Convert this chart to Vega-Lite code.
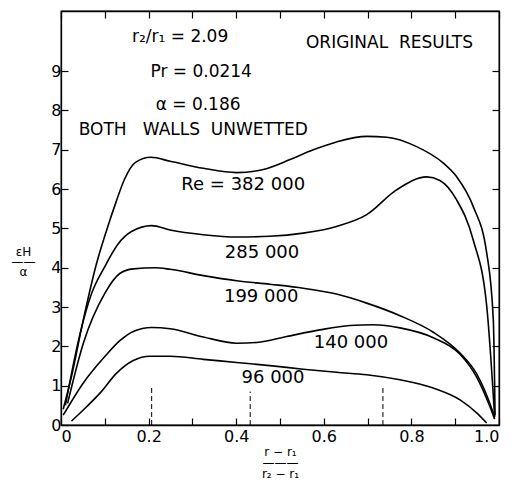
{
  "$schema": "https://vega.github.io/schema/vega-lite/v6.json",
  "width": 438,
  "height": 414,
  "autosize": "none",
  "padding": {"left": 61, "top": 11, "right": 15, "bottom": 58},
  "background": "white",
  "config": {
    "font": "DejaVu Sans",
    "view": {"stroke": "black", "strokeWidth": 1.3},
    "axis": {"domainColor": "black", "domainWidth": 1.3, "tickColor": "black", "tickWidth": 1.2, "labelColor": "black", "titleColor": "black", "grid": false, "labelFont": "DejaVu Sans", "titleFont": "DejaVu Sans"}
  },
  "datasets": {
    "curves": [
      {"Re": "382000", "x": 0.005, "y": 0.4},
      {"Re": "382000", "x": 0.024, "y": 1.24},
      {"Re": "382000", "x": 0.051, "y": 2.68},
      {"Re": "382000", "x": 0.081, "y": 4.1},
      {"Re": "382000", "x": 0.104, "y": 4.95},
      {"Re": "382000", "x": 0.125, "y": 5.65},
      {"Re": "382000", "x": 0.145, "y": 6.25},
      {"Re": "382000", "x": 0.17, "y": 6.68},
      {"Re": "382000", "x": 0.205, "y": 6.81},
      {"Re": "382000", "x": 0.249, "y": 6.71},
      {"Re": "382000", "x": 0.325, "y": 6.53},
      {"Re": "382000", "x": 0.401, "y": 6.42},
      {"Re": "382000", "x": 0.462, "y": 6.5},
      {"Re": "382000", "x": 0.523, "y": 6.75},
      {"Re": "382000", "x": 0.576, "y": 7.0},
      {"Re": "382000", "x": 0.629, "y": 7.2},
      {"Re": "382000", "x": 0.698, "y": 7.34},
      {"Re": "382000", "x": 0.744, "y": 7.32},
      {"Re": "382000", "x": 0.812, "y": 7.08},
      {"Re": "382000", "x": 0.873, "y": 6.66},
      {"Re": "382000", "x": 0.903, "y": 6.32},
      {"Re": "382000", "x": 0.941, "y": 5.56},
      {"Re": "382000", "x": 0.972, "y": 4.37},
      {"Re": "382000", "x": 0.987, "y": 2.68},
      {"Re": "382000", "x": 0.991, "y": 0.25},
      {"Re": "285000", "x": 0.01, "y": 0.5},
      {"Re": "285000", "x": 0.043, "y": 2.3},
      {"Re": "285000", "x": 0.07, "y": 3.35},
      {"Re": "285000", "x": 0.1, "y": 4.03},
      {"Re": "285000", "x": 0.13, "y": 4.6},
      {"Re": "285000", "x": 0.161, "y": 4.92},
      {"Re": "285000", "x": 0.207, "y": 5.07},
      {"Re": "285000", "x": 0.249, "y": 4.96},
      {"Re": "285000", "x": 0.325, "y": 4.84},
      {"Re": "285000", "x": 0.401, "y": 4.78},
      {"Re": "285000", "x": 0.477, "y": 4.8},
      {"Re": "285000", "x": 0.553, "y": 4.88},
      {"Re": "285000", "x": 0.629, "y": 5.05},
      {"Re": "285000", "x": 0.698, "y": 5.35},
      {"Re": "285000", "x": 0.766, "y": 5.98},
      {"Re": "285000", "x": 0.835, "y": 6.31},
      {"Re": "285000", "x": 0.865, "y": 6.22},
      {"Re": "285000", "x": 0.903, "y": 5.73},
      {"Re": "285000", "x": 0.941, "y": 4.71},
      {"Re": "285000", "x": 0.972, "y": 3.02},
      {"Re": "285000", "x": 0.99, "y": 0.22},
      {"Re": "199000", "x": 0.015, "y": 0.55},
      {"Re": "199000", "x": 0.051, "y": 2.08},
      {"Re": "199000", "x": 0.1, "y": 3.35},
      {"Re": "199000", "x": 0.135, "y": 3.86},
      {"Re": "199000", "x": 0.165, "y": 3.97},
      {"Re": "199000", "x": 0.215, "y": 4.0},
      {"Re": "199000", "x": 0.249, "y": 3.96},
      {"Re": "199000", "x": 0.325, "y": 3.8},
      {"Re": "199000", "x": 0.401, "y": 3.67},
      {"Re": "199000", "x": 0.477, "y": 3.58},
      {"Re": "199000", "x": 0.553, "y": 3.48},
      {"Re": "199000", "x": 0.629, "y": 3.33},
      {"Re": "199000", "x": 0.698, "y": 3.1},
      {"Re": "199000", "x": 0.774, "y": 2.78},
      {"Re": "199000", "x": 0.85, "y": 2.36},
      {"Re": "199000", "x": 0.911, "y": 1.83},
      {"Re": "199000", "x": 0.949, "y": 1.3},
      {"Re": "199000", "x": 0.976, "y": 0.64},
      {"Re": "199000", "x": 0.99, "y": 0.2},
      {"Re": "140000", "x": 0.005, "y": 0.25},
      {"Re": "140000", "x": 0.051, "y": 1.07},
      {"Re": "140000", "x": 0.1, "y": 1.74},
      {"Re": "140000", "x": 0.135, "y": 2.15},
      {"Re": "140000", "x": 0.165, "y": 2.38},
      {"Re": "140000", "x": 0.207, "y": 2.48},
      {"Re": "140000", "x": 0.249, "y": 2.45},
      {"Re": "140000", "x": 0.325, "y": 2.24},
      {"Re": "140000", "x": 0.401, "y": 2.08},
      {"Re": "140000", "x": 0.447, "y": 2.1},
      {"Re": "140000", "x": 0.515, "y": 2.25},
      {"Re": "140000", "x": 0.591, "y": 2.42},
      {"Re": "140000", "x": 0.66, "y": 2.53},
      {"Re": "140000", "x": 0.713, "y": 2.55},
      {"Re": "140000", "x": 0.774, "y": 2.47},
      {"Re": "140000", "x": 0.85, "y": 2.22},
      {"Re": "140000", "x": 0.911, "y": 1.8},
      {"Re": "140000", "x": 0.949, "y": 1.22},
      {"Re": "140000", "x": 0.976, "y": 0.56},
      {"Re": "140000", "x": 0.99, "y": 0.15},
      {"Re": "96000", "x": 0.024, "y": 0.1},
      {"Re": "96000", "x": 0.059, "y": 0.47},
      {"Re": "96000", "x": 0.089, "y": 0.81},
      {"Re": "96000", "x": 0.127, "y": 1.32},
      {"Re": "96000", "x": 0.165, "y": 1.64},
      {"Re": "96000", "x": 0.203, "y": 1.75},
      {"Re": "96000", "x": 0.249, "y": 1.75},
      {"Re": "96000", "x": 0.325, "y": 1.67},
      {"Re": "96000", "x": 0.401, "y": 1.59},
      {"Re": "96000", "x": 0.477, "y": 1.51},
      {"Re": "96000", "x": 0.553, "y": 1.42},
      {"Re": "96000", "x": 0.629, "y": 1.34},
      {"Re": "96000", "x": 0.698, "y": 1.28},
      {"Re": "96000", "x": 0.774, "y": 1.15},
      {"Re": "96000", "x": 0.85, "y": 0.94},
      {"Re": "96000", "x": 0.911, "y": 0.64},
      {"Re": "96000", "x": 0.949, "y": 0.31},
      {"Re": "96000", "x": 0.972, "y": 0.05}
    ],
    "notes": [
      {"x": 0.272, "y": 9.87, "text": "r₂/r₁ = 2.09"},
      {"x": 0.32, "y": 8.99, "text": "Pr = 0.0214"},
      {"x": 0.313, "y": 8.14, "text": "α = 0.186"},
      {"x": 0.302, "y": 7.51, "text": "BOTH\u00a0\u00a0\u00a0WALLS\u00a0\u00a0UNWETTED"},
      {"x": 0.75, "y": 9.71, "text": "ORIGINAL\u00a0\u00a0RESULTS"}
    ],
    "curveLabels": [
      {"x": 0.416, "y": 6.11, "text": "Re = 382 000"},
      {"x": 0.459, "y": 4.38, "text": "285 000"},
      {"x": 0.457, "y": 3.26, "text": "199 000"},
      {"x": 0.662, "y": 2.09, "text": "140 000"},
      {"x": 0.484, "y": 1.2, "text": "96 000"}
    ],
    "dashes": [
      {"x": 0.207, "y": 0, "y2": 1.0},
      {"x": 0.432, "y": 0, "y2": 0.85},
      {"x": 0.735, "y": 0, "y2": 0.95}
    ]
  },
  "layer": [
    {
      "data": {"name": "curves"},
      "mark": {"type": "line", "interpolate": "monotone", "color": "black", "strokeWidth": 1.6},
      "encoding": {
        "x": {"field": "x", "type": "quantitative", "scale": {"domain": [0, 1], "nice": false},
          "axis": {"orient": "bottom", "values": [0, 0.1, 0.2, 0.3, 0.4, 0.5, 0.6, 0.7, 0.8, 0.9, 1.0], "tickSize": -7, "labelPadding": 10, "labelFontSize": 16,
            "labelExpr": "datum.value == 0 ? '0' : (datum.value == 1 ? '1.0' : (round(datum.value * 10) % 2 == 0 ? format(datum.value, '.1f') : ''))",
            "title": ["r − r₁", "———", "r₂ − r₁"], "titleFontSize": 12, "titleFontWeight": "normal", "titleLineHeight": 11, "titlePadding": 2}},
        "y": {"field": "y", "type": "quantitative", "scale": {"domain": [0, 10.53], "nice": false},
          "axis": {"orient": "left", "values": [0, 1, 2, 3, 4, 5, 6, 7, 8, 9], "tickSize": -7, "labelPadding": 7, "labelFontSize": 16,
            "title": ["εH", "——", "α"], "titleFontSize": 12, "titleFontWeight": "normal", "titleAngle": 0, "titleLineHeight": 10, "titleAlign": "center", "titleBaseline": "middle", "titleX": -38, "titleY": 240}},
        "detail": {"field": "Re"}
      }
    },
    {
      "data": {"name": "dashes"},
      "mark": {"type": "rule", "color": "black", "strokeWidth": 1, "strokeDash": [5, 3]},
      "encoding": {
        "x": {"field": "x", "type": "quantitative", "axis": {"orient": "top", "values": [0, 0.1, 0.2, 0.3, 0.4, 0.5, 0.6, 0.7, 0.8, 0.9, 1.0], "tickSize": -7, "labels": false, "title": null}},
        "y": {"field": "y", "type": "quantitative", "axis": {"orient": "right", "values": [1, 2, 3, 4, 5, 6, 7, 8, 9], "tickSize": -7, "labels": false, "title": null}},
        "y2": {"field": "y2"}
      }
    },
    {
      "data": {"name": "notes"},
      "mark": {"type": "text", "color": "black", "fontSize": 17, "align": "center", "baseline": "middle"},
      "encoding": {
        "x": {"field": "x", "type": "quantitative", "axis": null},
        "y": {"field": "y", "type": "quantitative", "axis": null},
        "text": {"field": "text"}
      }
    },
    {
      "data": {"name": "curveLabels"},
      "mark": {"type": "text", "color": "black", "fontSize": 18, "align": "center", "baseline": "middle"},
      "encoding": {
        "x": {"field": "x", "type": "quantitative", "axis": null},
        "y": {"field": "y", "type": "quantitative", "axis": null},
        "text": {"field": "text"}
      }
    }
  ],
  "resolve": {"axis": {"x": "independent", "y": "independent"}}
}
